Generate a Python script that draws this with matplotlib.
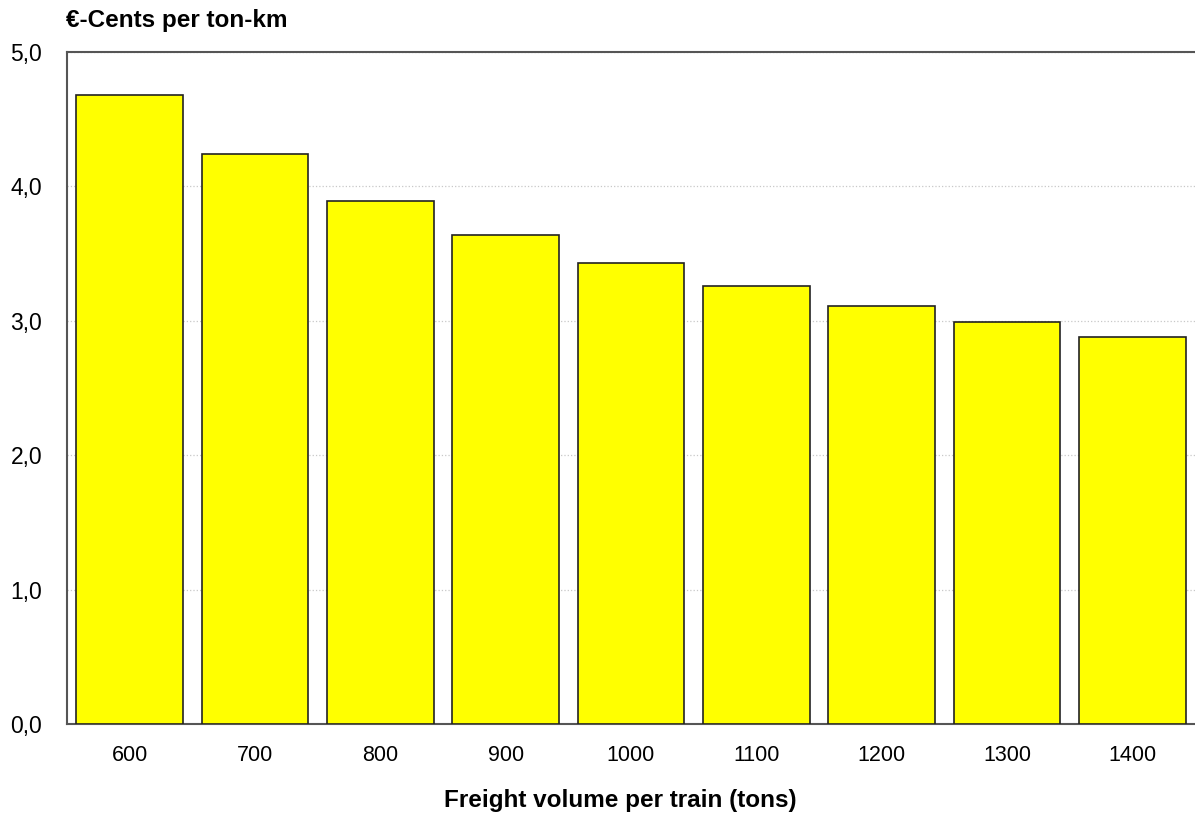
import matplotlib.pyplot as plt

plt.rcParams['font.family'] = ['Liberation Sans', 'DejaVu Sans']

volumes = ['600', '700', '800', '900', '1000', '1100', '1200', '1300', '1400']
cents = [4.68, 4.24, 3.89, 3.64, 3.43, 3.26, 3.11, 2.99, 2.88]
y_ticks = [0, 1, 2, 3, 4, 5]
y_labels = ['0,0', '1,0', '2,0', '3,0', '4,0', '5,0']

fig = plt.figure(figsize=(11.95, 8.19), dpi=100)
ax = fig.add_axes([67 / 1195, 95 / 819, 1 - 67 / 1195, (724 - 52) / 819])

x = range(len(volumes))
ax.bar(x, cents, width=0.85, color='#ffff00', edgecolor='#222222', linewidth=1.2, zorder=3)

ax.set_xlim(-0.5, 8.5)
ax.set_ylim(0, 5)
ax.set_xticks(list(x))
ax.set_xticklabels(volumes, fontsize=15.5)
ax.set_yticks(y_ticks)
ax.set_yticklabels(y_labels, fontsize=16.5)
ax.tick_params(axis='x', length=0, pad=15)
ax.tick_params(axis='y', length=0, pad=18)

ax.grid(axis='y', color='#c8c8c8', linestyle=':', linewidth=0.9, zorder=0)
for s in ax.spines.values():
    s.set_color('#555555')
    s.set_linewidth(1.5)
ax.spines['right'].set_visible(False)

fig.text(620 / 1195, 1 - 800 / 819, 'Freight volume per train (tons)', fontsize=17.5,
         fontweight='bold', ha='center', va='center')
fig.text(66 / 1195, 1 - 20 / 819, '€-Cents per ton-km', fontsize=17.5, fontweight='bold',
         ha='left', va='center')

fig.savefig('out.png', dpi=100)
